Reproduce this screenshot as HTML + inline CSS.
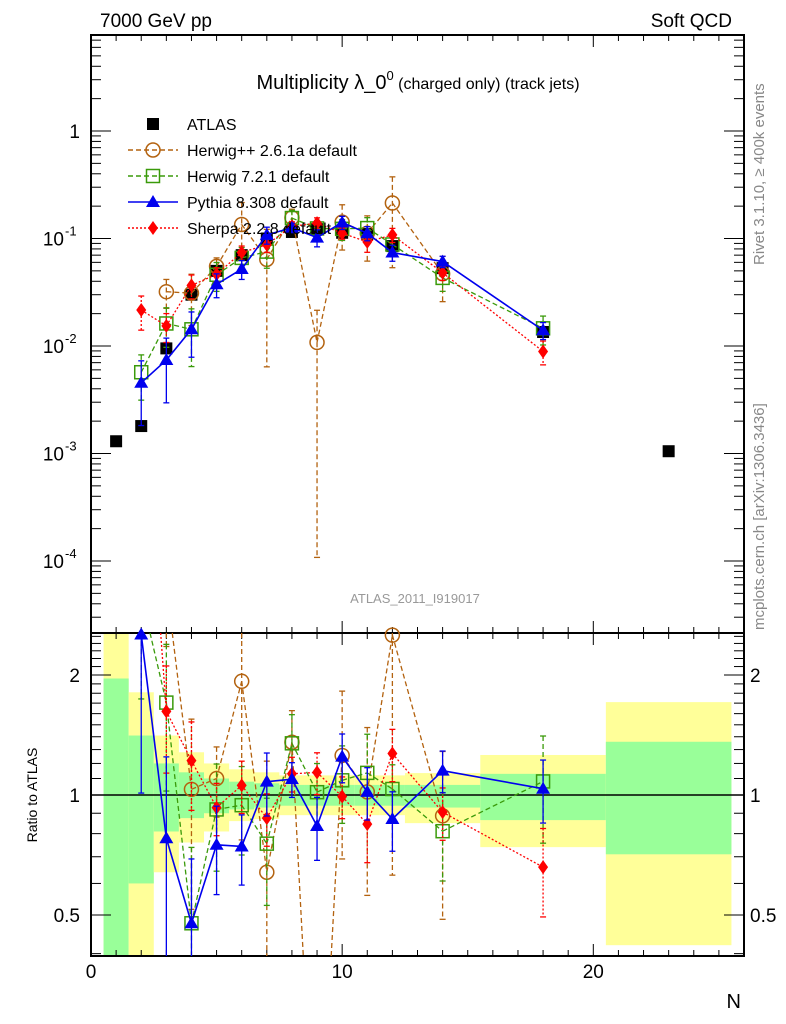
<!DOCTYPE html>
<html><head><meta charset="utf-8"><style>
html,body{margin:0;padding:0;background:#fff;width:786px;height:1024px;overflow:hidden;}
svg{display:block;font-family:"Liberation Sans",sans-serif;}
</style></head><body>
<svg id="plot" width="786" height="1024" viewBox="0 0 786 1024" xmlns="http://www.w3.org/2000/svg">
<g id="bands"></g>
<g id="axes"></g>
<g id="marksMain"></g>
<g id="marksRatio"></g>
<g id="legend"></g>
<text x="100" y="27" font-size="19">7000 GeV pp</text>
<text x="732" y="27" font-size="19" text-anchor="end">Soft QCD</text>
<text x="418" y="89" font-size="20" text-anchor="middle">Multiplicity λ_0<tspan dy="-9" font-size="13">0</tspan><tspan dy="9" font-size="16"> (charged only) (track jets)</tspan></text>
<text x="415" y="603" font-size="13" fill="#999" text-anchor="middle">ATLAS_2011_I919017</text>
<text transform="translate(764,265) rotate(-90)" font-size="15" fill="#888">Rivet 3.1.10, ≥ 400k events</text>
<text transform="translate(764,630) rotate(-90)" font-size="15" fill="#888">mcplots.cern.ch [arXiv:1306.3436]</text>
<text transform="translate(37,795) rotate(-90)" font-size="14" text-anchor="middle">Ratio to ATLAS</text>
<text x="741" y="1008" font-size="20" text-anchor="end">N</text>
</svg>
<script>
const NS="http://www.w3.org/2000/svg";
const atlasN=[1,2,3,4,5,6,7,8,9,10,11,12,14,18,23];
const atlasV=[0.0013,0.0018,0.0095,0.030,0.050,0.070,0.100,0.115,0.122,0.113,0.110,0.085,0.053,0.0135,0.00105];
const bandLo=[0.5,1.5,2.5,3.5,4.5,5.5,6.5,7.5,8.5,9.5,10.5,11.5,12.5,15.5,20.5];
const bandHi=[1.5,2.5,3.5,4.5,5.5,6.5,7.5,8.5,9.5,10.5,11.5,12.5,15.5,20.5,25.5];
const yelUp=[3.0,1.81,1.41,1.28,1.2,1.16,1.14,1.12,1.12,1.12,1.12,1.12,1.135,1.26,1.71];
const yelDn=[0.3,0.3,0.64,0.76,0.81,0.86,0.87,0.89,0.89,0.89,0.89,0.89,0.85,0.74,0.42];
const grnUp=[1.96,1.41,1.2,1.14,1.10,1.08,1.07,1.06,1.06,1.06,1.06,1.06,1.06,1.13,1.36];
const grnDn=[0.3,0.60,0.81,0.875,0.90,0.92,0.93,0.94,0.94,0.94,0.94,0.94,0.93,0.865,0.71];
const hppN=[3,4,5,6,7,8,9,10,11,12,14];
const hppV=[0.032,0.031,0.055,0.135,0.064,0.156,0.0108,0.142,0.112,0.214,0.047];
const hppE=[0.3,0.5,0.2,0.6,0.9,0.2,0.99,0.45,0.45,0.75,0.45];
const h7N=[2,3,4,5,6,7,8,9,10,11,12,14,18];
const h7V=[0.0057,0.0162,0.0143,0.046,0.066,0.0755,0.155,0.124,0.123,0.125,0.088,0.043,0.0146];
const h7E=[0.45,0.4,0.55,0.3,0.25,0.3,0.18,0.18,0.22,0.25,0.15,0.25,0.3];
const pyN=[2,3,4,5,6,7,8,9,10,11,12,14,18];
const pyV=[0.00455,0.0074,0.0143,0.0375,0.052,0.108,0.126,0.102,0.141,0.112,0.074,0.061,0.014];
const pyE=[0.6,0.6,0.45,0.25,0.2,0.18,0.1,0.18,0.14,0.15,0.17,0.12,0.18];
const shN=[2,3,4,5,6,7,8,9,10,11,12,14,18];
const shV=[0.0216,0.0154,0.0366,0.0465,0.074,0.0875,0.13,0.139,0.112,0.093,0.108,0.048,0.0089];
const shE=[0.35,0.3,0.25,0.15,0.15,0.15,0.1,0.12,0.12,0.2,0.15,0.15,0.25];
const yTickLabels=["10","10","10","10","1"];
const yTickExp=["-4","-3","-2","-1",""];
const xTickLabels=["0","10","20"];

const X0=91,X1=744,XMIN=0,XMAX=26;
const MT=35,MB=633,RT=633,RB=956;
function sx(n){return X0+(n-XMIN)/(XMAX-XMIN)*(X1-X0);}
function sy(v){return 131-107.5*Math.log10(v);}
function ry(r){return 795-120*Math.log2(r);}
function el(tag,attrs,parent){const e=document.createElementNS(NS,tag);for(const k in attrs)e.setAttribute(k,attrs[k]);parent.appendChild(e);return e;}
function cl(y,t,b){return Math.max(t,Math.min(b,y));}

const bands=document.getElementById('bands');
for(let i=0;i<bandLo.length;i++){
  const yt=cl(ry(yelUp[i]),RT,RB),yb=cl(ry(yelDn[i]),RT,RB);
  const y=el('rect',{x:sx(bandLo[i]),y:yt,width:sx(bandHi[i])-sx(bandLo[i]),height:yb-yt,fill:'#ffff99'},bands);
  
  
  const gt=cl(ry(grnUp[i]),RT,RB),gb=cl(ry(grnDn[i]),RT,RB);
  const g=el('rect',{x:sx(bandLo[i]),y:gt,width:sx(bandHi[i])-sx(bandLo[i]),height:gb-gt,fill:'#99ff99'},bands);
  
  
}

const axes=document.getElementById('axes');
el('line',{x1:X0,y1:ry(1),x2:X1,y2:ry(1),stroke:'#000','stroke-width':1.5},axes);
el('rect',{x:X0,y:MT,width:X1-X0,height:MB-MT,fill:'none',stroke:'#000','stroke-width':2},axes);
el('rect',{x:X0,y:RT,width:X1-X0,height:RB-RT,fill:'none',stroke:'#000','stroke-width':2},axes);
for(let n=1;n<=26;n++){
  const L=(n%10===0)?12:6,x=sx(n);
  for(const [t,b] of [[MT,MB],[RT,RB]]){
    el('line',{x1:x,y1:t,x2:x,y2:t+L,stroke:'#000','stroke-width':1},axes);
    el('line',{x1:x,y1:b,x2:x,y2:b-L,stroke:'#000','stroke-width':1},axes);
  }
}
xTickLabels.forEach((s,i)=>{const t=el('text',{x:sx(i*10),y:978,'font-size':19,'text-anchor':'middle'},axes);t.textContent=s;
  
  });
for(let d=-5;d<=0;d++){
  for(let m=1;m<10;m++){
    const v=m*Math.pow(10,d),y=sy(v);
    if(y<MT||y>MB)continue;
    const L=m===1?20:10;
    el('line',{x1:X0,y1:y,x2:X0+L,y2:y,stroke:'#000','stroke-width':1},axes);
    el('line',{x1:X1,y1:y,x2:X1-L,y2:y,stroke:'#000','stroke-width':1},axes);
  }
}
yTickLabels.forEach((s,i)=>{const d=i-4,y=sy(Math.pow(10,d));
  const t=el('text',{x:d===0?80:64,y:y+7,'font-size':19,'text-anchor':'end'},axes);t.textContent=s;
  
  
  if(yTickExp[i]){const e=el('text',{x:65,y:y-3,'font-size':13},axes);e.textContent=yTickExp[i];}
});
const rMinor=[0.4,0.5,0.6,0.7,0.8,0.9,1,1.1,1.2,1.3,1.4,1.5,1.6,1.7,1.8,1.9,2,2.1,2.2,2.3,2.4,2.5];
rMinor.forEach(r=>{const y=ry(r);if(y<RT||y>RB)return;const L=(r===0.5||r===1||r===2)?20:10;
  el('line',{x1:X0,y1:y,x2:X0+L,y2:y,stroke:'#000','stroke-width':1},axes);
  el('line',{x1:X1,y1:y,x2:X1-L,y2:y,stroke:'#000','stroke-width':1},axes);});
[["0.5",0.5],["1",1],["2",2]].forEach(([s,r])=>{
  const a=el('text',{x:80,y:ry(r)+7,'font-size':19,'text-anchor':'end'},axes);a.textContent=s;
  
  
  const b=el('text',{x:750,y:ry(r)+7,'font-size':19},axes);b.textContent=s;
  
  
});

function atlasAt(n){return atlasV[atlasN.indexOf(n)];}
function marker(type,x,y,color,parent){
  if(type==='sq') return el('rect',{x:x-6,y:y-6,width:12,height:12,fill:'#000'},parent);
  if(type==='osq') return el('rect',{x:x-6.5,y:y-6.5,width:13,height:13,fill:'none',stroke:color,'stroke-width':1.5},parent);
  if(type==='oc') return el('circle',{cx:x,cy:y,r:7,fill:'none',stroke:color,'stroke-width':1.5},parent);
  if(type==='tri') return el('polygon',{points:`${x},${y-7} ${x-7},${y+5} ${x+7},${y+5}`,fill:color},parent);
  if(type==='dia') return el('polygon',{points:`${x},${y-7} ${x-5},${y} ${x},${y+7} ${x+5},${y}`,fill:color},parent);
}
// clip segment to y range [t,b]
function seg(x1,y1,x2,y2,t,b,style,parent){
  let a0=0,a1=1;const dy=y2-y1;
  if(Math.abs(dy)<1e-9){ if(y1<t||y1>b) return; }
  else{
    let u1=(t-y1)/dy,u2=(b-y1)/dy;if(u1>u2)[u1,u2]=[u2,u1];
    a0=Math.max(a0,u1);a1=Math.min(a1,u2);if(a0>=a1)return;
  }
  el('line',Object.assign({x1:x1+(x2-x1)*a0,y1:y1+dy*a0,x2:x1+(x2-x1)*a1,y2:y1+dy*a1},style),parent);
}
function errbar(x,yLo,yHi,t,b,color,dash,parent){
  const s={stroke:color,'stroke-width':1.3};if(dash)s['stroke-dasharray']=dash;
  const a=cl(yHi,t,b),c=cl(yLo,t,b);
  if(c-a>0.5) el('line',Object.assign({x1:x,y1:a,x2:x,y2:c},s),parent);
  [yLo,yHi].forEach(yy=>{if(yy>t&&yy<b) el('line',{x1:x-3,y1:yy,x2:x+3,y2:yy,stroke:color,'stroke-width':1.3},parent);});
}
function series(name,N,V,E,color,dash,type,width){
  const gm=el('g',{},document.getElementById('marksMain'));
  
  
  const gr=el('g',{},document.getElementById('marksRatio'));
  
  
  const ls={stroke:color,'stroke-width':width};if(dash)ls['stroke-dasharray']=dash;
  for(let i=0;i<N.length;i++){
    const x=sx(N[i]),a=atlasAt(N[i]);
    const lo=Math.max(V[i]*(1-E[i]),1e-9),hi=V[i]*(1+E[i]);
    errbar(x,sy(lo),sy(hi),MT,MB,color,dash,gm);
    errbar(x,ry(lo/a),ry(hi/a),RT,RB,color,dash,gr);
    if(i>0){
      const xp=sx(N[i-1]);
      seg(xp,sy(V[i-1]),x,sy(V[i]),MT,MB,ls,gm);
      seg(xp,ry(V[i-1]/atlasAt(N[i-1])),x,ry(V[i]/a),RT,RB,ls,gr);
    }
  }
  for(let i=0;i<N.length;i++){
    const x=sx(N[i]),y1=sy(V[i]),y2=ry(V[i]/atlasAt(N[i]));
    if(y1>MT&&y1<MB){const m1=marker(type,x,y1,color,gm);
      
      }
    if(y2>RT&&y2<RB){const m2=marker(type,x,y2,color,gr);
      
      }
  }
}
const ga=document.getElementById('marksMain');
for(let i=0;i<atlasN.length;i++){
  const m=marker('sq',sx(atlasN[i]),sy(atlasV[i]),'#000',ga);
  
  
}
series('herwigpp',hppN,hppV,hppE,'#b3620f','5,3','oc',1.3);
series('herwig7',h7N,h7V,h7E,'#3a9a0a','5,3','osq',1.3);
series('sherpa',shN,shV,shE,'#ff0000','2,2','dia',1.3);
series('pythia',pyN,pyV,pyE,'#0000ee',null,'tri',1.6);

const lg=document.getElementById('legend');
const leg=[["ATLAS",'#000',null,'sq'],["Herwig++ 2.6.1a default",'#b3620f','5,3','oc'],["Herwig 7.2.1 default",'#3a9a0a','5,3','osq'],["Pythia 8.308 default",'#0000ee',null,'tri'],["Sherpa 2.2.8 default",'#ff0000','2,2','dia']];
leg.forEach((e,i)=>{
  const y=124+i*26;
  const g=el('g',{},lg);
  
  
  if(i>0){const s={x1:128,y1:y,x2:178,y2:y,stroke:e[1],'stroke-width':1.4};if(e[2])s['stroke-dasharray']=e[2];el('line',s,g);}
  marker(e[3],153,y,e[1],g);
  const t=el('text',{x:187,y:y+6,'font-size':16},g);t.textContent=e[0];
});
</script>
</body></html>
